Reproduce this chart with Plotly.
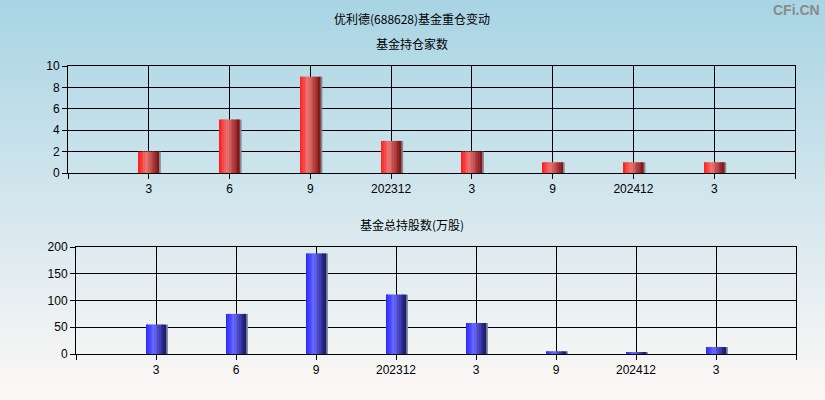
import plotly.graph_objects as go

# ---- data ----
categories = ["3", "6", "9", "202312", "3", "9", "202412", "3"]
fund_count = [2, 5, 9, 3, 2, 1, 1, 1]
fund_shares = [55, 75, 188, 111, 58, 5, 2, 13]

title_main = "优利德(688628)基金重仓变动"
title_top = "基金持仓家数"
title_bottom = "基金总持股数(万股)"

W, H = 825, 400
xpos = list(range(1, len(categories) + 1))

fig = go.Figure()

def lerp(c1, c2, t):
    return tuple(int(round(a + (b - a) * t)) for a, b in zip(c1, c2))

def grad_color(stops, t):
    for (t0, c0), (t1, c1) in zip(stops, stops[1:]):
        if t <= t1:
            return lerp(c0, c1, (t - t0) / (t1 - t0) if t1 > t0 else 0)
    return stops[-1][1]

red_stops = [(0.0, (255, 25, 25)), (0.4, (236, 118, 118)), (1.0, (125, 18, 18))]
blue_stops = [(0.0, (35, 35, 255)), (0.4, (105, 105, 255)), (1.0, (22, 22, 105))]

BW = 0.25
N = 12
SH = 0.028

def add_bars(values, stops, xa, ya):
    # shadow
    fig.add_trace(go.Bar(x=xpos, y=values, width=SH, offset=BW / 2 - 0.004,
                         marker=dict(color="rgb(128,138,150)", line=dict(width=0)),
                         xaxis=xa, yaxis=ya, hoverinfo="skip", showlegend=False))
    for i in range(N):
        t = (i + 0.5) / N
        c = grad_color(stops, t)
        fig.add_trace(go.Bar(x=xpos, y=values, width=BW / N + 0.002,
                             offset=-BW / 2 + i * BW / N,
                             marker=dict(color="rgb(%d,%d,%d)" % c, line=dict(width=0)),
                             xaxis=xa, yaxis=ya, hoverinfo="skip", showlegend=False))

add_bars(fund_count, red_stops, "x", "y")
add_bars(fund_shares, blue_stops, "x2", "y2")

# background gradient
shapes = []
top_c = (168, 212, 228)
bot_c = (253, 248, 246)
nb = 100
for k in range(nb):
    t = (k + 0.5) / nb
    c = lerp(top_c, bot_c, t)
    y1 = 1 - k / nb
    y0 = 1 - (k + 1) / nb
    shapes.append(dict(type="rect", xref="paper", yref="paper", x0=0, x1=1,
                       y0=y0 - 0.002, y1=y1 + 0.002, layer="below",
                       fillcolor="rgb(%d,%d,%d)" % c, line=dict(width=0)))

tickvals = list(range(0, len(categories) + 2))
ticktext = [""] + categories + [""]

xcommon = dict(range=[0, len(categories) + 1], tickmode="array", tickvals=tickvals,
               ticktext=ticktext, showgrid=True, gridcolor="black", gridwidth=1,
               ticks="outside", ticklen=5, tickcolor="black", showline=True,
               linecolor="black", linewidth=1, mirror=True, zeroline=False,
               automargin=False,
               tickfont=dict(family="Liberation Sans, Arial", size=12, color="black"),
               fixedrange=True)
ycommon = dict(showgrid=True, gridcolor="black", gridwidth=1, ticks="outside",
               ticklen=5, tickcolor="black", showline=True, linecolor="black",
               linewidth=1, mirror=True, zeroline=False, automargin=False,
               tickfont=dict(family="Liberation Sans, Arial", size=12, color="black"),
               fixedrange=True)

fig.update_layout(
    template="none",
    width=W, height=H, autosize=False,
    margin=dict(l=0, r=0, t=0, b=0, pad=0),
    paper_bgcolor="white",
    plot_bgcolor="rgba(0,0,0,0)",
    barmode="overlay",
    showlegend=False,
    shapes=shapes,
    xaxis=dict(xcommon, domain=[68 / W, 795 / W], anchor="y"),
    yaxis=dict(ycommon, domain=[1 - 173 / H, 1 - 66 / H], range=[0, 10],
               tickvals=[0, 2, 4, 6, 8, 10], anchor="x"),
    xaxis2=dict(xcommon, domain=[76 / W, 796 / W], anchor="y2"),
    yaxis2=dict(ycommon, domain=[1 - 354 / H, 1 - 247 / H], range=[0, 200],
                tickvals=[0, 50, 100, 150, 200], anchor="x2"),
    annotations=[
        dict(text=title_main, x=412 / W, y=1 - 18 / H, xref="paper", yref="paper",
             showarrow=False, xanchor="center", yanchor="middle",
             font=dict(family="Noto Sans CJK SC", size=12, color="black")),
        dict(text=title_top, x=412 / W, y=1 - 43 / H, xref="paper", yref="paper",
             showarrow=False, xanchor="center", yanchor="middle",
             font=dict(family="Noto Sans CJK SC", size=12, color="black")),
        dict(text=title_bottom, x=412 / W, y=1 - 224 / H, xref="paper", yref="paper",
             showarrow=False, xanchor="center", yanchor="middle",
             font=dict(family="Noto Sans CJK SC", size=12, color="black")),
        dict(text="<b>CFi.CN</b>", x=822 / W, y=1 - 10 / H, xref="paper", yref="paper",
             showarrow=False, xanchor="right", yanchor="middle",
             font=dict(family="Liberation Sans, Arial", size=14, color="#8a8a8a")),
    ],
)

fig.write_html("out.html", config={"displayModeBar": False},
               post_script="document.body.style.margin='0px';document.body.style.padding='0px';")
